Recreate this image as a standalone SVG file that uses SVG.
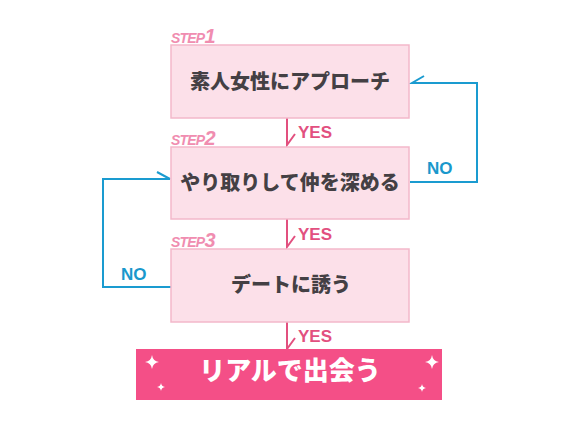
<svg xmlns="http://www.w3.org/2000/svg" width="580" height="425" viewBox="0 0 580 425">
<defs>
<style>
.box{fill:#fce0e9;stroke:#f3b8ca;stroke-width:1.5}
.t{font-family:"Noto Sans CJK JP","Noto Sans",sans-serif;font-weight:900;fill:#444044;text-anchor:middle}
.step{font-family:"Liberation Sans",Arial,sans-serif;font-weight:bold;font-style:italic;fill:#f08db0}
.yes{font-family:"Liberation Sans",Arial,sans-serif;font-weight:bold;font-size:17px;fill:#e2507f}
.no{font-family:"Liberation Sans",Arial,sans-serif;font-weight:bold;font-size:17px;fill:#1a98cc}
.pk{fill:none;stroke:#e2507f;stroke-width:2}
.bl{fill:none;stroke:#1a9bd0;stroke-width:2}
.sp{fill:#ffffff}
</style>
</defs>
<rect width="580" height="425" fill="#ffffff"/>
<g id="connectors">
<path class="pk" d="M287,118 V145 L295,134"/>
<path class="pk" d="M287,219 V247 L295,236"/>
<path class="pk" d="M287,322 V349 L295,338"/>
<path class="bl" d="M410,182 H477 V83 H412 L424,76"/>
<path class="bl" d="M172,287 H103 V179 H170 L157,172"/>
<text class="yes" x="298" y="138">YES</text>
<text class="yes" x="298" y="240">YES</text>
<text class="yes" x="298" y="342">YES</text>
<text class="no" x="427" y="174">NO</text>
<text class="no" x="121" y="280">NO</text>
</g>
<g id="step1">
<text class="step" x="171" y="43" letter-spacing="-0.8"><tspan font-size="14">STEP</tspan><tspan font-size="20">1</tspan></text>
<rect class="box" x="171" y="45" width="238" height="73"/>
<text class="t" x="290" y="89" font-size="20">素人女性にアプローチ</text>
</g>
<g id="step2">
<text class="step" x="171" y="145" letter-spacing="-0.8"><tspan font-size="14">STEP</tspan><tspan font-size="20">2</tspan></text>
<rect class="box" x="171" y="147" width="238" height="72"/>
<text class="t" x="290" y="190" font-size="20">やり取りして仲を深める</text>
</g>
<g id="step3">
<text class="step" x="171" y="247" letter-spacing="-0.8"><tspan font-size="14">STEP</tspan><tspan font-size="20">3</tspan></text>
<rect class="box" x="171" y="249" width="238" height="73"/>
<text class="t" x="291" y="292" font-size="20">デートに誘う</text>
</g>
<g id="goal">
<rect x="136" y="349" width="306" height="51" fill="#f44f87"/>
<text class="t" x="290" y="380" font-size="26" style="fill:#ffffff">リアルで出会う</text>
<g class="sp">
<path d="M152,355 Q152.8,361.2 159,362 Q152.8,362.8 152,369 Q151.2,362.8 145,362 Q151.2,361.2 152,355Z"/>
<path d="M161,383 Q161.5,386.5 165,387 Q161.5,387.5 161,391 Q160.5,387.5 157,387 Q160.5,386.5 161,383Z"/>
<path d="M432,355 Q432.8,361.2 439,362 Q432.8,362.8 432,369 Q431.2,362.8 425,362 Q431.2,361.2 432,355Z"/>
<path d="M422,384 Q422.5,387.5 426,388 Q422.5,388.5 422,392 Q421.5,388.5 418,388 Q421.5,387.5 422,384Z"/>
</g>
</g>
</svg>
